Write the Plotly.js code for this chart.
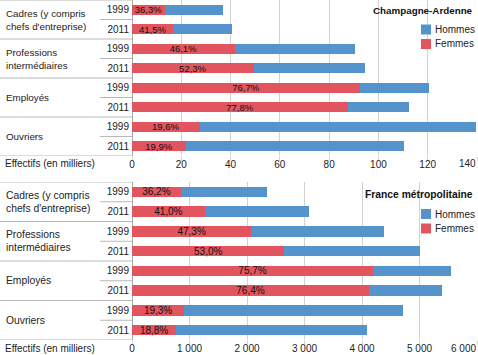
<!DOCTYPE html>
<html>
<head>
<meta charset="utf-8">
<script src="https://cdn.plot.ly/plotly-3.0.1.min.js"></script>
<style>html,body{margin:0;padding:0;background:#fff;}#chart{width:478px;height:355px;}</style>
</head>
<body>
<div id="chart"></div>
<script>
// ---- data ----
const categories = ["Cadres (y compris<br>chefs d'entreprise)", "Professions<br>intermédiaires", "Employés", "Ouvriers"];
const years = ["1999", "2011"];
const seriesNames = ["Hommes", "Femmes"];

const caTitle = "Champagne-Ardenne";
const caFemmes = [13.4, 16.8, 41.7, 49.4, 92.5, 87.6, 27.4, 21.9];
const caHommes = [23.5, 23.8, 48.8, 45.0, 28.1, 25.0, 112.2, 88.4];
const caPct = ["36,3%", "41,5%", "46,1%", "52,3%", "76,7%", "77,8%", "19,6%", "19,9%"];
const caTickVals = [0, 20, 40, 60, 80, 100, 120, 140];
const caTickText = ["0", "20", "40", "60", "80", "100", "120", "140"];

const frTitle = "France métropolitaine";
const frFemmes = [850, 1265, 2075, 2652, 4193, 4121, 909, 769];
const frHommes = [1497, 1821, 2307, 2353, 1348, 1273, 3800, 3323];
const frPct = ["36,2%", "41,0%", "47,3%", "53,0%", "75,7%", "76,4%", "19,3%", "18,8%"];
const frTickVals = [0, 1000, 2000, 3000, 4000, 5000, 6000];
const frTickText = ["0", "1 000", "2 000", "3 000", "4 000", "5 000", "6 000"];

const axisLabel = "Effectifs (en milliers)";

// ---- style ----
const FONT = "'Liberation Sans', Arial, sans-serif";
const BLUE = "#5593cd";
const RED = "#e2555e";
const GRID = "#d2d2d2";
const SEP = "#b8b8b8";
const TXT = "#222";
const W = 478, H = 355, ML = 132, MR = 1, MT = 0, MB = 15;
const PW = W - ML - MR, PH = H - MT - MB;
const px = v => (v - ML) / PW;          // pixel x -> paper
const py = v => (PH + MT - v) / PH;     // pixel y -> paper

const rows = [];
categories.forEach(() => years.forEach(() => rows.push(rows.length)));
const yearText = [];
categories.forEach(() => years.forEach(y => yearText.push(y)));

// last tick label is drawn right-aligned (as in the reference) so it stays inside the frame
const hideLast = labels => labels.map((t, i) => i === labels.length - 1 ? "" : t);

function bars(fem, hom, pct, xa, ya, fs) {
  return [
    {type: "bar", orientation: "h", name: seriesNames[1], x: fem, y: rows, xaxis: xa, yaxis: ya,
     marker: {color: RED, line: {width: 0}}, text: pct, textposition: "inside", insidetextanchor: "middle",
     constraintext: "none", textangle: 0,
     insidetextfont: {family: FONT, size: fs, color: "#111"}, hoverinfo: "none", showlegend: false},
    {type: "bar", orientation: "h", name: seriesNames[0], x: hom, y: rows, xaxis: xa, yaxis: ya,
     marker: {color: BLUE, line: {width: 0}}, hoverinfo: "none", showlegend: false}
  ];
}

const data = [
  ...bars(caFemmes, caHommes, caPct, "x", "y", 9.5),
  ...bars(frFemmes, frHommes, frPct, "x2", "y2", 10)
];

const xbase = {
  showgrid: true, gridcolor: GRID, gridwidth: 1, ticks: "outside", ticklen: 4, tickcolor: GRID,
  zeroline: true, zerolinecolor: "#a8a8a8", zerolinewidth: 1, showline: false,
  tickmode: "array", fixedrange: true, automargin: false,
  ticklabelstandoff: -5,
  tickfont: {family: FONT, size: 10, color: TXT}
};
const ybase = {
  tickmode: "array", tickvals: rows, ticktext: yearText, ticks: "", showgrid: false, zeroline: false,
  showline: false, range: [rows.length - 0.5, -0.5], fixedrange: true, automargin: false,
  ticklabelstandoff: 2, tickfont: {family: FONT, size: 10, color: TXT}
};

const topDom = [py(156), 1];
const botDom = [0, py(182)];

const annotations = [];
const shapes = [];

function panel(xref, yref, title, titleY, axLabelY, legY, fs, tickVals, tickText) {
  categories.forEach((c, k) => {
    annotations.push({text: c, xref: "paper", yref: yref, x: px(4), y: k * years.length + 0.5,
      xanchor: "left", yanchor: "middle", align: "left", showarrow: false,
      font: {family: FONT, size: fs, color: TXT}});
  });
  annotations.push({text: axisLabel, xref: "paper", yref: "paper", x: px(3), y: py(axLabelY),
    xanchor: "left", yanchor: "middle", showarrow: false, font: {family: FONT, size: 10, color: TXT}});
  const n = tickVals.length - 1;
  annotations.push({text: tickText[n], xref: xref, yref: "paper", x: tickVals[n], y: py(axLabelY),
    xanchor: "right", yanchor: "middle", showarrow: false, borderpad: 0,
    font: {family: FONT, size: 10, color: TXT}});
  annotations.push({text: "<b>" + title + "</b>", xref: "paper", yref: "paper", x: px(475), y: py(titleY),
    xanchor: "right", yanchor: "middle", showarrow: false, font: {family: FONT, size: fs, color: "#111"}});
  [BLUE, RED].forEach((col, i) => {
    const cy = legY + i * 14.5;
    shapes.push({type: "rect", xref: "paper", yref: "paper", x0: px(421), x1: px(431), y0: py(cy + 5), y1: py(cy - 5),
      fillcolor: col, line: {width: 0}});
    annotations.push({text: seriesNames[i], xref: "paper", yref: "paper", x: px(433), y: py(cy),
      xanchor: "left", yanchor: "middle", showarrow: false, font: {family: FONT, size: 10, color: TXT}});
  });
  for (let k = 0; k <= categories.length; k++) {
    shapes.push({type: "line", xref: "paper", yref: yref, x0: px(0), x1: 0, y0: k * 2 - 0.5, y1: k * 2 - 0.5,
      line: {color: SEP, width: 1}});
  }
  for (let k = 0; k < categories.length; k++) {
    shapes.push({type: "line", xref: "paper", yref: yref, x0: px(100), x1: 0, y0: k * 2 + 0.5, y1: k * 2 + 0.5,
      line: {color: SEP, width: 1}});
  }
}
panel("x", "y", caTitle, 11, 163, 29.5, 9.8, caTickVals, caTickText);
panel("x2", "y2", frTitle, 194, 348, 214, 10.3, frTickVals, frTickText);

const layout = {
  width: W, height: H, margin: {l: ML, r: MR, t: MT, b: MB, pad: 0},
  paper_bgcolor: "#fff", plot_bgcolor: "#fff",
  barmode: "stack", bargap: 0.48, showlegend: false,
  font: {family: FONT, size: 10, color: TXT},
  xaxis: Object.assign({}, xbase, {anchor: "y", domain: [0, 1], range: [0, 140], tickvals: caTickVals, ticktext: hideLast(caTickText)}),
  yaxis: Object.assign({}, ybase, {anchor: "x", domain: topDom}),
  xaxis2: Object.assign({}, xbase, {anchor: "y2", domain: [0, 1], range: [0, 6000], tickvals: frTickVals, ticktext: hideLast(frTickText)}),
  yaxis2: Object.assign({}, ybase, {anchor: "x2", domain: botDom}),
  annotations: annotations, shapes: shapes
};

Plotly.newPlot("chart", data, layout, {staticPlot: true, displayModeBar: false});
</script>
</body>
</html>
